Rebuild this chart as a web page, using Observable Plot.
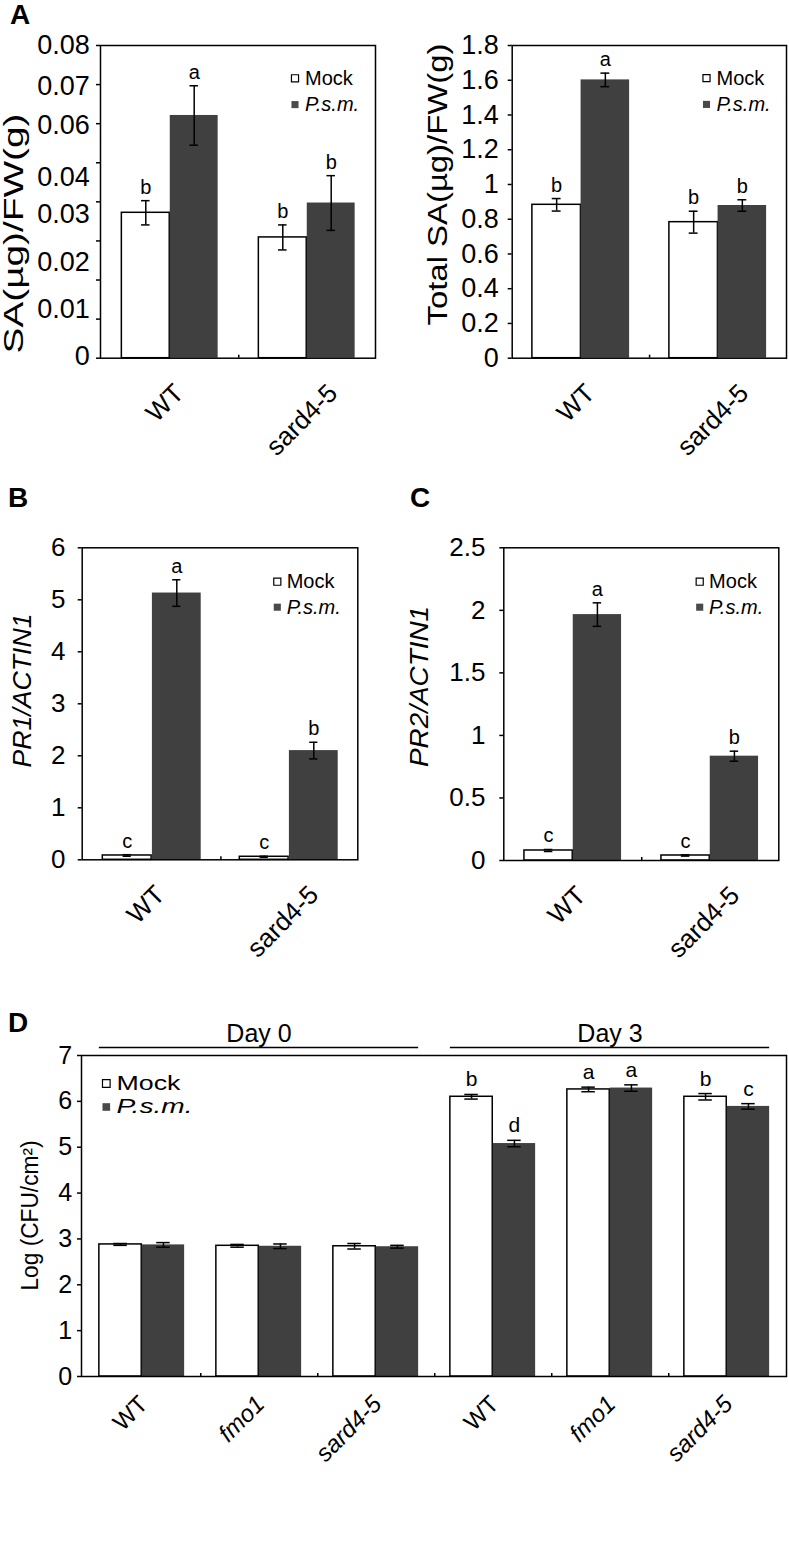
<!DOCTYPE html>
<html><head><meta charset="utf-8">
<script src="https://cdn.jsdelivr.net/npm/d3@7"></script>
<script src="https://cdn.jsdelivr.net/npm/@observablehq/plot@0.6"></script>
<style>
body{margin:0;background:#fff;}
#page{position:relative;width:789px;height:1564px;background:#fff;overflow:hidden;font-family:"Liberation Sans",Arial,sans-serif;}
.panel{position:absolute;}
.letter{position:absolute;font-weight:bold;font-size:28px;line-height:1;color:#000;}
</style></head><body><div id="page"></div>
<script>
// ---------------- data ----------------
const treatments = ["Mock", "P.s.m."];

// A (left): free SA
const saGenotypes = ["WT", "sard4-5"];
const saMock = [0.0372, 0.0309];
const saMockErr = [0.0031, 0.0032];
const saPsm = [0.0621, 0.0397];
const saPsmErr = [0.0076, 0.0070];
const saMockLetters = ["b", "b"];
const saPsmLetters = ["a", "b"];
const saTicks = [0, 0.01, 0.02, 0.03, 0.04, 0.05, 0.06, 0.07, 0.08];
const saTickLabels = ["0.08", "0.07", "0.06", "0.04", "0.03", "0.02", "0.01", "0"];
const saTickLabelAt = [0.08, 0.0695, 0.0596, 0.0463, 0.0367, 0.0246, 0.0125, 0.0005];

// A (right): total SA
const tsaGenotypes = ["WT", "sard4-5"];
const tsaMock = [0.883, 0.783];
const tsaMockErr = [0.036, 0.063];
const tsaPsm = [1.602, 0.879];
const tsaPsmErr = [0.039, 0.033];
const tsaMockLetters = ["b", "b"];
const tsaPsmLetters = ["a", "b"];
const tsaTicks = [0, 0.2, 0.4, 0.6, 0.8, 1, 1.2, 1.4, 1.6, 1.8];

// B: PR1
const pr1Genotypes = ["WT", "sard4-5"];
const pr1Mock = [0.083, 0.058];
const pr1MockErr = [0.015, 0.01];
const pr1Psm = [5.13, 2.10];
const pr1PsmErr = [0.255, 0.16];
const pr1MockLetters = ["c", "c"];
const pr1PsmLetters = ["a", "b"];
const pr1Ticks = [0, 1, 2, 3, 4, 5, 6];

// C: PR2
const pr2Genotypes = ["WT", "sard4-5"];
const pr2Mock = [0.08, 0.04];
const pr2MockErr = [0.008, 0.005];
const pr2Psm = [1.966, 0.834];
const pr2PsmErr = [0.094, 0.04];
const pr2MockLetters = ["c", "c"];
const pr2PsmLetters = ["a", "b"];
const pr2Ticks = [0, 0.5, 1, 1.5, 2, 2.5];

// D: bacterial growth
const cfuDays = ["Day 0", "Day 0", "Day 0", "Day 3", "Day 3", "Day 3"];
const cfuGenotypes = ["WT", "fmo1", "sard4-5", "WT", "fmo1", "sard4-5"];
const cfuMock = [2.88, 2.85, 2.84, 6.10, 6.26, 6.10];
const cfuMockErr = [0.02, 0.03, 0.06, 0.05, 0.05, 0.07];
const cfuPsm = [2.87, 2.84, 2.83, 5.08, 6.29, 5.89];
const cfuPsmErr = [0.05, 0.05, 0.03, 0.07, 0.07, 0.06];
const cfuMockLetters = ["", "", "", "b", "a", "b"];
const cfuPsmLetters = ["", "", "", "d", "a", "c"];
const cfuTicks = [0, 1, 2, 3, 4, 5, 6, 7];

// ---------------- drawing ----------------
const FONT = '"Liberation Sans", Arial, Helvetica, sans-serif';
const ctx = document.createElement("canvas").getContext("2d");
function textWidth(t, size, italic) {
  ctx.font = `${italic ? "italic " : ""}${size}px ${FONT}`;
  return ctx.measureText(t).width;
}
const numFmt = d => String(+d.toFixed(3));

function stretchText(svg, content, length) {
  svg.querySelectorAll("text").forEach(t => {
    if (t.textContent === content) {
      t.setAttribute("textLength", length);
      t.setAttribute("lengthAdjust", "spacingAndGlyphs");
    }
  });
}

function barPanel(c) {
  const n = c.keys.length;
  const frameH = c.height - c.mT - c.mB;
  const bw = (c.width - c.mL - c.mR) / n;
  const g = c.gap * bw;
  const barW = (bw - 2 * g) / 2;
  const mockC = g + barW / 2 - bw / 2;
  const psmC = g + 1.5 * barW - bw / 2;
  const rows = (vals, errs, letters) => c.keys.map((k, i) => ({
    key: k, v: vals[i], lo: vals[i] - errs[i], hi: vals[i] + errs[i], letter: letters[i]
  }));
  const mockRows = rows(c.mock, c.mockErr, c.mockLetters);
  const psmRows = rows(c.psm, c.psmErr, c.psmLetters);
  const capIn = (center) => ({insetLeft: bw / 2 + center - c.capW / 2, insetRight: bw / 2 - center - c.capW / 2});
  const marks = [];
  marks.push(Plot.barY(mockRows, {x: "key", y: "v", fill: "white", stroke: "black", strokeWidth: 1.5,
    insetLeft: g, insetRight: bw - g - barW}));
  marks.push(Plot.barY(psmRows, {x: "key", y: "v", fill: "#404040", insetLeft: g + barW, insetRight: g}));
  for (const [rr, center] of [[mockRows, mockC], [psmRows, psmC]]) {
    marks.push(Plot.ruleX(rr, {x: "key", y1: "lo", y2: "hi", dx: center, stroke: "black", strokeWidth: 1.5}));
    marks.push(Plot.tickY(rr, {x: "key", y: "hi", ...capIn(center), stroke: "black", strokeWidth: 1.5}));
    marks.push(Plot.tickY(rr, {x: "key", y: "lo", ...capIn(center), stroke: "black", strokeWidth: 1.5}));
    marks.push(Plot.text(rr.filter(d => d.letter), {x: "key", y: "hi", text: "letter", dx: center, dy: -c.letterGap,
      lineAnchor: "bottom", fontSize: c.letterFont, fill: "black"}));
  }
  marks.push(Plot.frame({stroke: "black", strokeWidth: 1.5}));
  // small category-boundary ticks
  marks.push(Plot.tickX(c.keys.slice(0, -1), {x: d => d, dx: bw / 2, insetTop: frameH - 3, stroke: "black", strokeWidth: 1.5}));
  // y axis
  if (c.customTickLabels) {
    marks.push(Plot.axisY(c.yTicks, {tickSize: 4, tickFormat: () => "", label: null, strokeWidth: 1.5}));
    marks.push(Plot.text(c.customTickLabels, {y: (d, i) => c.customTickAt[i], text: d => d, frameAnchor: "left",
      dx: -(4 + c.tickPad), textAnchor: "end", lineAnchor: "middle", fontSize: c.tickFont, fill: "black"}));
  } else {
    marks.push(Plot.axisY(c.yTicks, {tickSize: 4, tickPadding: c.tickPad, tickFormat: numFmt, label: null,
      fontSize: c.tickFont, strokeWidth: 1.5}));
  }
  // x labels (rotated 45°)
  c.keys.forEach((k, i) => {
    const label = c.labels[i];
    const italic = c.italic(label);
    const common = {x: d => d, frameAnchor: "bottom", text: () => label, rotate: -45, dx: c.xDx,
      fontSize: c.xFont, fontStyle: italic ? "italic" : "normal", fill: "black"};
    if (c.xEndAnchor) {
      marks.push(Plot.text([k], {...common, dy: c.xPad, textAnchor: "end", lineAnchor: "top"}));
    } else {
      const L = textWidth(label, c.xFont, italic);
      const dy = c.xPad + (L + 0.72 * c.xFont) * Math.SQRT1_2 / 2;
      marks.push(Plot.text([k], {...common, dy, textAnchor: "middle", lineAnchor: "middle"}));
    }
  });
  // y label
  marks.push(Plot.text([c.yLabel], {frameAnchor: "left", text: d => d, rotate: -90,
    dx: c.yLabelX - c.mL, dy: c.yLabelY - (c.mT + frameH / 2), fontSize: c.yLabelFont,
    fontStyle: c.yLabelItalic ? "italic" : "normal", textAnchor: "middle", lineAnchor: "middle", fill: "black"}));
  // legend
  const lg = c.legend;
  treatments.forEach((t, i) => {
    marks.push(Plot.dot([t], {frameAnchor: "top-left", dx: lg.dx, dy: lg.dy + i * lg.step, symbol: "square", r: lg.r,
      fill: i ? "#4a4a4a" : "white", stroke: i ? "none" : "black", strokeWidth: 1.2}));
    marks.push(Plot.text([t], {frameAnchor: "top-left", text: d => d, dx: lg.tx, dy: lg.dy + i * lg.step,
      textAnchor: "start", lineAnchor: "middle", fontSize: lg.font, fontStyle: i ? "italic" : "normal", fill: "black"}));
  });
  if (c.extra) marks.push(...c.extra({bw, g}));
  const svg = Plot.plot({
    width: c.width, height: c.height,
    marginLeft: c.mL, marginRight: c.mR, marginTop: c.mT, marginBottom: c.mB,
    style: {fontFamily: FONT, background: "white", color: "black", overflow: "visible"},
    x: {type: "band", domain: c.keys, padding: 0, axis: null},
    y: {domain: c.yDomain, axis: null},
    marks
  });
  // match the (wide) text proportions of the original figure
  if (c.yLabelLength) stretchText(svg, c.yLabel, c.yLabelLength);
  if (lg.lengths) treatments.forEach((t, i) => stretchText(svg, t, lg.lengths[i]));
  return svg;
}

const page = document.getElementById("page");
function place(node, left, top) {
  const div = document.createElement("div");
  div.className = "panel";
  div.style.left = left + "px";
  div.style.top = top + "px";
  div.appendChild(node);
  page.appendChild(div);
}
function letter(t, left, top) {
  const d = document.createElement("div");
  d.className = "letter";
  d.textContent = t;
  d.style.left = left + "px";
  d.style.top = top + "px";
  page.appendChild(d);
}
const upright = () => false;

// Panel A left
place(barPanel({
  keys: saGenotypes, labels: saGenotypes, italic: upright,
  mock: saMock, mockErr: saMockErr, psm: saPsm, psmErr: saPsmErr,
  mockLetters: saMockLetters, psmLetters: saPsmLetters,
  yDomain: [0, 0.08], yTicks: saTicks, customTickLabels: saTickLabels, customTickAt: saTickLabelAt,
  width: 390, height: 470, mL: 100, mR: 15, mT: 45, mB: 112.3,
  gap: 0.148, capW: 9, tickFont: 27, tickPad: 6.7, xFont: 26, xPad: 24, xDx: -5,
  letterFont: 20, letterGap: 7,
  yLabel: "SA(µg)/FW(g)", yLabelX: 14, yLabelY: 233, yLabelFont: 27, yLabelLength: 240,
  legend: {dx: 194.5, dy: 32.8, step: 26.3, r: 4, tx: 204.5, font: 20}
}), 0, 0);

// Panel A right
place(barPanel({
  keys: tsaGenotypes, labels: tsaGenotypes, italic: upright,
  mock: tsaMock, mockErr: tsaMockErr, psm: tsaPsm, psmErr: tsaPsmErr,
  mockLetters: tsaMockLetters, psmLetters: tsaPsmLetters,
  yDomain: [0, 1.8], yTicks: tsaTicks,
  width: 399, height: 470, mL: 121.7, mR: 3, mT: 45, mB: 112.3,
  gap: 0.145, capW: 9, tickFont: 27, tickPad: 9.4, xFont: 26, xPad: 24, xDx: -5,
  letterFont: 20, letterGap: 7,
  yLabel: "Total SA(µg)/FW(g)", yLabelX: 47.5, yLabelY: 184, yLabelFont: 27, yLabelLength: 282,
  legend: {dx: 194.3, dy: 32.6, step: 26.3, r: 4, tx: 204.3, font: 20}
}), 390, 0);

// Panel B
place(barPanel({
  keys: pr1Genotypes, labels: pr1Genotypes, italic: upright,
  mock: pr1Mock, mockErr: pr1MockErr, psm: pr1Psm, psmErr: pr1PsmErr,
  mockLetters: pr1MockLetters, psmLetters: pr1PsmLetters,
  yDomain: [0, 6], yTicks: pr1Ticks,
  width: 390, height: 460, mL: 81.7, mR: 32.7, mT: 77.3, mB: 70.7,
  gap: 0.14, capW: 9, tickFont: 26, tickPad: 12.7, xFont: 26, xPad: 24, xDx: -6,
  letterFont: 20, letterGap: 7,
  yLabel: "PR1/ACTIN1", yLabelItalic: true, yLabelX: 22.5, yLabelY: 220, yLabelFont: 26, yLabelLength: 154,
  legend: {dx: 195.1, dy: 33.9, step: 25.5, r: 4, tx: 204.5, font: 20}
}), 0, 470);

// Panel C
place(barPanel({
  keys: pr2Genotypes, labels: pr2Genotypes, italic: upright,
  mock: pr2Mock, mockErr: pr2MockErr, psm: pr2Psm, psmErr: pr2PsmErr,
  mockLetters: pr2MockLetters, psmLetters: pr2PsmLetters,
  yDomain: [0, 2.5], yTicks: pr2Ticks,
  width: 399, height: 460, mL: 113.3, mR: 10.7, mT: 77.3, mB: 70,
  gap: 0.145, capW: 9, tickFont: 26, tickPad: 14.3, xFont: 26, xPad: 24, xDx: -6,
  letterFont: 20, letterGap: 7,
  yLabel: "PR2/ACTIN1", yLabelItalic: true, yLabelX: 29, yLabelY: 216, yLabelFont: 26, yLabelLength: 161,
  legend: {dx: 195.9, dy: 33.9, step: 25.5, r: 4, tx: 205.3, font: 20}
}), 390, 470);

// Panel D
const cfuKeys = cfuDays.map((d, i) => d + "|" + cfuGenotypes[i]);
place(barPanel({
  keys: cfuKeys, labels: cfuGenotypes, italic: l => l !== "WT",
  mock: cfuMock, mockErr: cfuMockErr, psm: cfuPsm, psmErr: cfuPsmErr,
  mockLetters: cfuMockLetters, psmLetters: cfuPsmLetters,
  yDomain: [0, 7], yTicks: cfuTicks,
  width: 789, height: 574, mL: 81, mR: 3, mT: 65, mB: 188,
  gap: 0.135, capW: 14, tickFont: 25, tickPad: 5.3, xFont: 24, xPad: 17, xDx: -5, xEndAnchor: true,
  letterFont: 21, letterGap: 8,
  yLabel: "Log (CFU/cm²)", yLabelX: 30, yLabelY: 225, yLabelFont: 23, yLabelLength: 150,
  legend: {dx: 24.8, dy: 28, step: 23.5, r: 4.3, tx: 35, font: 20, lengths: [64, 76]},
  extra: ({g}) => [...new Set(cfuDays)].flatMap(day => {
    const ks = cfuKeys.filter(k => k.startsWith(day + "|"));
    return [
      Plot.ruleY([day], {y: () => 7, x1: () => ks[0], x2: () => ks[ks.length - 1], dy: -8,
        insetLeft: g, insetRight: g, stroke: "black", strokeWidth: 1.5}),
      Plot.text([day], {x: () => ks[Math.floor(ks.length / 2)], y: () => 7, text: d => d, dy: -14,
        lineAnchor: "bottom", fontSize: 25, fill: "black"})
    ];
  })
}), 0, 990);

letter("A", 10, 1.4);
letter("B", 8, 484.4);
letter("C", 410, 484.4);
letter("D", 8, 1009);
</script>
</body></html>
